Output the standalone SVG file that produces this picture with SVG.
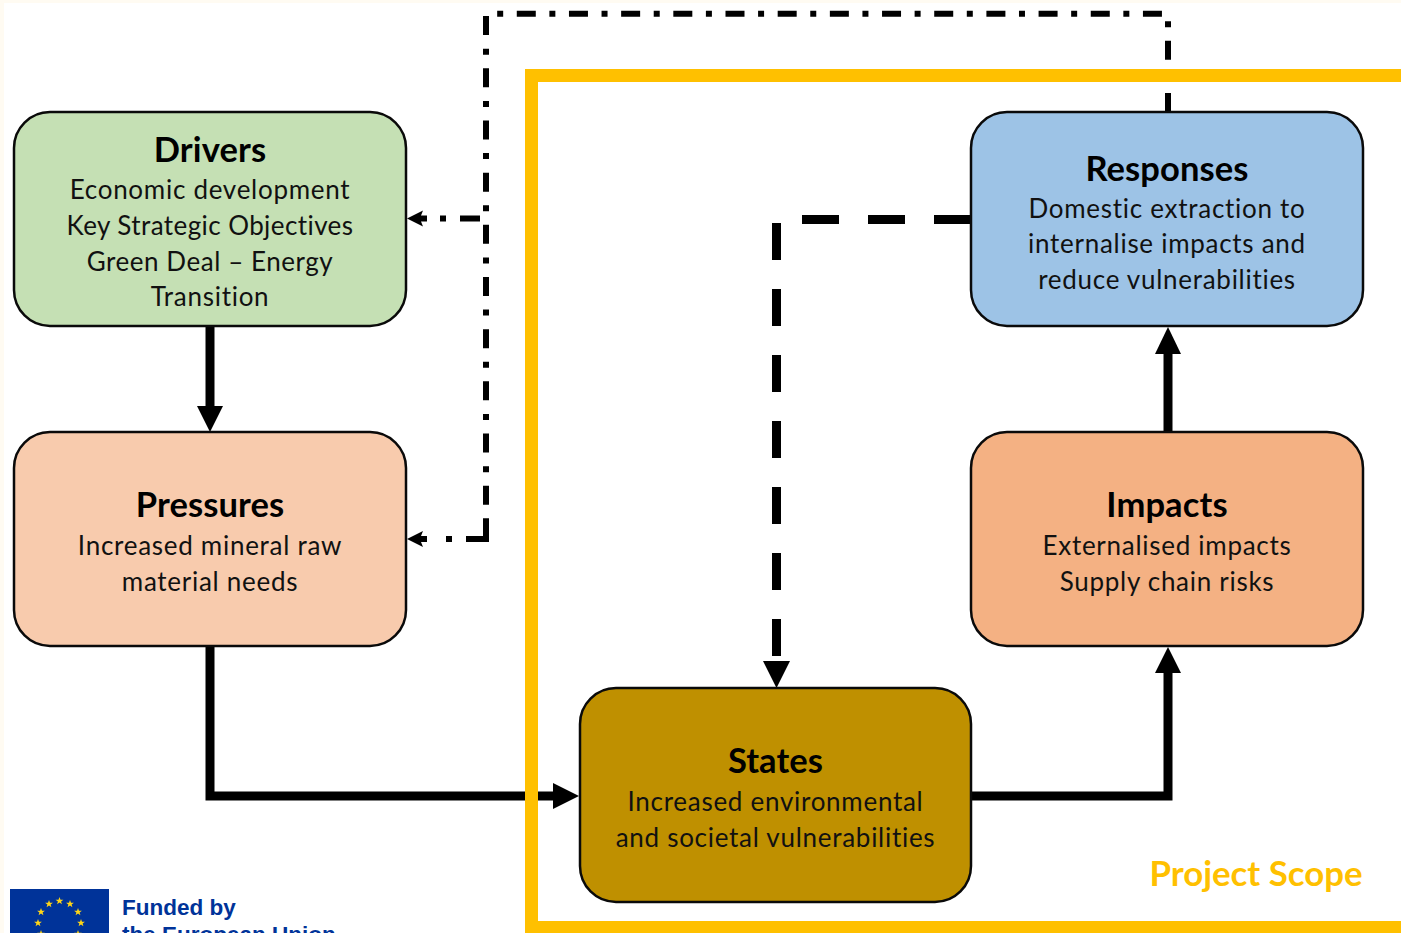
<svg xmlns="http://www.w3.org/2000/svg" xmlns:xlink="http://www.w3.org/1999/xlink" width="1401" height="933" viewBox="0 0 1401 933">
<style>
.box{stroke:#0a0a0a;stroke-width:2.5}
.t{font-family:Lato,"Liberation Sans",sans-serif;font-size:34.5px;font-weight:700;letter-spacing:.1px;text-anchor:middle;fill:#000}
.b{font-family:Lato,"Liberation Sans",sans-serif;font-size:26px;letter-spacing:.72px;text-anchor:middle;fill:#111}
.solid{fill:none;stroke:#000;stroke-width:9}
.dd{fill:none;stroke:#000;stroke-width:6;stroke-dasharray:19 13.6 6 13.58}
.dd2{fill:none;stroke:#000;stroke-width:6;stroke-dasharray:20 14 6 100}
.eu{font-family:"Liberation Sans",Arial,sans-serif;font-weight:700;font-size:22.5px;fill:#003399}
</style>
<defs>
<polygon id="star" points="0,-4 1,-1.3 3.9,-1.3 1.6,0.5 2.4,3.3 0,1.6 -2.4,3.3 -1.6,0.5 -3.9,-1.3 -1,-1.3" fill="#FFD617"/>
</defs>
<rect width="1401" height="933" fill="#fff"/>
<rect width="1401" height="3" fill="#FFFBF2"/>
<rect width="4" height="933" fill="#FFFBF2"/>
<g id="connectors">
<path class="dd" d="M1168 112V13.7H486V529"/>
<path class="dd2" d="M480 218.500H425"/>
<path class="dd2" d="M486 539H425"/>
<path d="M486 522V542" fill="none" stroke="#000" stroke-width="6"/>
<polygon points="407,218.500 423,210.500 421,215.500 427,215.500 427,221.500 421,221.500 423,226.500"/>
<polygon points="407,539 423,531 421,536 427,536 427,542 421,542 423,547"/>
<path class="solid" d="M210 326V408"/>
<polygon points="210,432 197,406 223,406"/>
<path class="solid" d="M210 646V796H555"/>
<polygon points="579,796 553,783 553,809"/>
<path class="solid" d="M971 796H1168V670"/>
<polygon points="1168,647 1155,673 1181,673"/>
<path class="solid" d="M1168 432V352"/>
<polygon points="1168,327 1155,354 1181,354"/>
<path class="solid" stroke-dasharray="37 29" d="M971 219.500H776.500V664"/>
<polygon points="776.500,688 763,661 790,661"/>
</g>
<g id="scope">
<path d="M1401 75.500H531.500V927.500H1401" fill="none" stroke="#FFC000" stroke-width="13"/>
<text x="1256" y="885.500" font-family="Lato,'Liberation Sans',sans-serif" font-size="34.800" font-weight="700" fill="#FFC000" text-anchor="middle">Project Scope</text>
</g>
<g id="drivers">
<rect class="box" x="14" y="112" width="392" height="214" rx="36" fill="#C5E0B4"/>
<text class="t" x="210" y="161.500">Drivers</text>
<text class="b" x="210" y="198.500">Economic development</text>
<text class="b" x="210" y="234.500" style="letter-spacing:.42px">Key Strategic Objectives</text>
<text class="b" x="210" y="270.500" style="letter-spacing:.55px">Green Deal – Energy</text>
<text class="b" x="210" y="305.500">Transition</text>
</g>
<g id="pressures">
<rect class="box" x="14" y="432" width="392" height="214" rx="36" fill="#F8CBAD"/>
<text class="t" x="210" y="517">Pressures</text>
<text class="b" x="210" y="554.500">Increased mineral raw</text>
<text class="b" x="210" y="590.500">material needs</text>
</g>
<g id="states">
<rect class="box" x="580" y="688" width="391" height="214" rx="36" fill="#BF9000"/>
<text class="t" x="775.500" y="773">States</text>
<text class="b" x="775.500" y="810.500">Increased environmental</text>
<text class="b" x="775.500" y="846.500">and societal vulnerabilities</text>
</g>
<g id="impacts">
<rect class="box" x="971" y="432" width="392" height="214" rx="36" fill="#F4B183"/>
<text class="t" x="1167" y="517">Impacts</text>
<text class="b" x="1167" y="554.500">Externalised impacts</text>
<text class="b" x="1167" y="590.500">Supply chain risks</text>
</g>
<g id="responses">
<rect class="box" x="971" y="112" width="392" height="214" rx="36" fill="#9DC3E6"/>
<text class="t" x="1167" y="180.500">Responses</text>
<text class="b" x="1167" y="217.500">Domestic extraction to</text>
<text class="b" x="1167" y="252.500">internalise impacts and</text>
<text class="b" x="1167" y="288.500">reduce vulnerabilities</text>
</g>
<g id="eu-logo">
<rect x="10" y="889" width="99" height="44" fill="#003399"/>
<use xlink:href="#star" href="#star" x="59.500" y="901"/>
<use xlink:href="#star" href="#star" x="49" y="904"/>
<use xlink:href="#star" href="#star" x="70" y="904"/>
<use xlink:href="#star" href="#star" x="41" y="912"/>
<use xlink:href="#star" href="#star" x="78" y="912"/>
<use xlink:href="#star" href="#star" x="38" y="923"/>
<use xlink:href="#star" href="#star" x="81" y="923"/>
<use xlink:href="#star" href="#star" x="41" y="934"/>
<use xlink:href="#star" href="#star" x="78" y="934"/>
<text class="eu" x="122" y="915">Funded by</text>
<text class="eu" x="122" y="942">the European Union</text>
</g>
</svg>
